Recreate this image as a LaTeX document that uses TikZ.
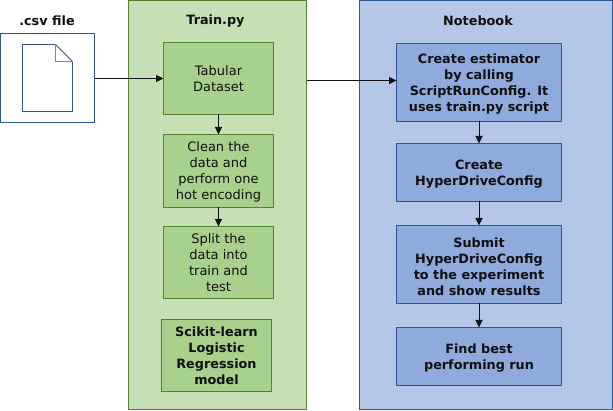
\documentclass[tikz,border=0pt]{standalone}
\usepackage{fontspec}
\setmainfont{DejaVu Sans}
\usetikzlibrary{arrows.meta}
\definecolor{gfill}{HTML}{C5E0B4}
\definecolor{gbox}{HTML}{A9D18E}
\definecolor{gline}{HTML}{548235}
\definecolor{bfill}{HTML}{B4C7E7}
\definecolor{bbox}{HTML}{8FAADC}
\definecolor{bline}{HTML}{2F5597}
\definecolor{ink}{HTML}{101010}
\tikzset{
  x=1pt,y=-1pt,
  panel/.style={draw,line width=1pt,inner sep=0pt,outer sep=0pt,anchor=north west},
  gpanel/.style={panel,draw=gline,fill=gfill},
  bpanel/.style={panel,draw=bline,fill=bfill},
  cell/.style={draw,line width=1pt,inner sep=0pt,outer sep=0pt,anchor=north west,align=center,text=ink,font=\fontsize{13}{16}\selectfont},
  gcell/.style={cell,draw=gline,fill=gbox},
  gbold/.style={gcell,font=\fontsize{12.8}{16}\selectfont\bfseries},
  bcell/.style={cell,draw=bline,fill=bbox},
  btext/.style={inner sep=0pt,align=center,text=ink,font=\fontsize{12.8}{16}\selectfont\bfseries},
  gtext/.style={inner sep=0pt,align=center,text=ink,font=\fontsize{13}{16}\selectfont},
  head/.style={inner sep=0pt,text=ink,font=\fontsize{12.8}{16}\selectfont\bfseries},
  link/.style={draw=ink,line width=1pt,-{Triangle[length=7.5pt,width=7pt]}},
}
\begin{document}
\begin{tikzpicture}
\useasboundingbox (0,0) rectangle (613,411);
\fill[white] (0,0) rectangle (613,411);
\node[panel,draw=bline,fill=white,minimum width=94pt,minimum height=89pt] (csv) at (0.5,33.5) {};
\filldraw[draw=bline,fill=white,line width=.8pt] (22.5,44.5) -- (55.5,44.5) -- (72.5,61.5) -- (72.5,111.5) -- (22.5,111.5) -- cycle;
\draw[draw=bline!70,line width=.8pt] (55.5,44.5) -- (55.5,61.5) -- (72.5,61.5);
\node[head] (csvt) at (47,21) {.csv file};
\node[gpanel,minimum width=178pt,minimum height=409pt] (train) at (128.5,0.5) {};
\node[head] (traint) at (215.5,21) {Train.py};
\node[bpanel,minimum width=252.5pt,minimum height=409pt] (nb) at (359.5,0.5) {};
\node[head] (nbt) at (478,21) {Notebook};
\node[gcell,minimum width=110pt,minimum height=72pt] (tab) at (163.5,42.5) {Tabular\\Dataset};
\node[gcell,minimum width=110pt,minimum height=73pt] (clean) at (163.5,134.5) {};
\node[gtext] (cleant) at ([yshift=-1pt]clean.center) {Clean the\\data and\\perform one\\hot encoding};
\node[gcell,minimum width=110pt,minimum height=72pt] (split) at (163.5,226.5) {Split the\\data into\\train and\\test};
\node[gbold,minimum width=110pt,minimum height=72pt] (sk) at (161.5,319.5) {Scikit-learn\\Logistic\\Regression\\model};
\node[bcell,minimum width=165pt,minimum height=78pt] (est) at (396.5,43.5) {};
\node[btext] (estt) at ([yshift=-2pt]est.center) {Create estimator\\by calling\\ScriptRunConfig. It\\uses train.py script};
\node[bcell,minimum width=165pt,minimum height=58pt] (hyp) at (396.5,143.5) {};
\node[btext] (hypt) at ([yshift=-2pt]hyp.center) {Create\\HyperDriveConfig};
\node[bcell,minimum width=165pt,minimum height=78pt] (sub) at (396.5,225.5) {};
\node[btext] (subt) at ([yshift=-2pt]sub.center) {Submit\\HyperDriveConfig\\to the experiment\\and show results};
\node[bcell,minimum width=165pt,minimum height=58pt] (best) at (396.5,327.5) {};
\node[btext] (bestt) at ([yshift=-2pt]best.center) {Find best\\performing run};
\coordinate (estin) at ([yshift=2pt]est.west);
\draw[link] (csv.east|-tab.west) -- (tab.west);
\draw[link] (tab) -- (clean);
\draw[link] (clean) -- (split);
\draw[link] (train.east|-estin) -- (estin);
\draw[link] (est) -- (hyp);
\draw[link] (hyp) -- (sub);
\draw[link] (sub) -- (best);
\end{tikzpicture}
\end{document}
